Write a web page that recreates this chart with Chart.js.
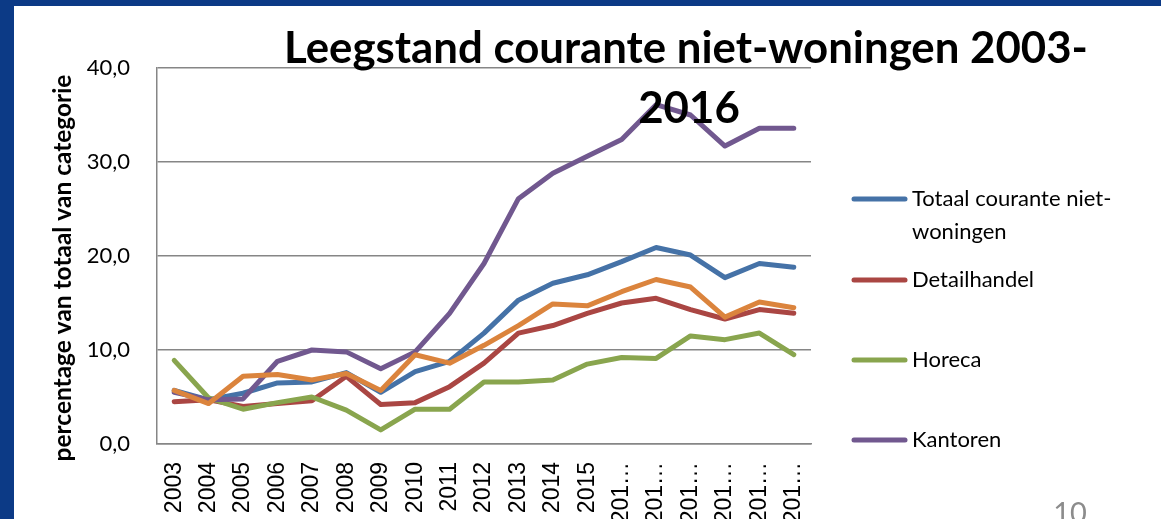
<!DOCTYPE html>
<html><head><meta charset="utf-8">
<script src="https://cdn.jsdelivr.net/npm/chart.js@4.4.1/dist/chart.umd.min.js"></script>
<style>html,body{margin:0;padding:0;background:#fff;overflow:hidden}canvas{display:block}</style>
</head><body>
<canvas id="c" width="1161" height="519"></canvas>
<script>
// ---- data ----
const years = ['2003','2004','2005','2006','2007','2008','2009','2010','2011','2012','2013','2014','2015','201…','201…','201…','201…','201…','201…'];
const totaal       = [5.7,4.7,5.4,6.5,6.6,7.6,5.5,7.7,8.8,11.8,15.3,17.1,18.0,19.4,20.9,20.1,17.7,19.2,18.8];
const detailhandel = [4.5,4.7,4.0,4.3,4.6,7.2,4.2,4.4,6.1,8.6,11.8,12.6,13.9,15.0,15.5,14.3,13.3,14.3,13.9];
const horeca       = [8.9,4.9,3.7,4.4,5.0,3.6,1.5,3.7,3.7,6.6,6.6,6.8,8.5,9.2,9.1,11.5,11.1,11.8,9.5];
const kantoren     = [5.5,4.7,4.8,8.8,10.0,9.8,8.0,9.8,13.9,19.2,26.1,28.8,30.6,32.4,36.1,35.0,31.7,33.6,33.6];
const overig       = [5.7,4.3,7.2,7.4,6.8,7.5,5.7,9.5,8.6,10.5,12.6,14.9,14.7,16.2,17.5,16.7,13.5,15.1,14.5];
const seriesNames  = ['Totaal courante niet-woningen','Detailhandel','Horeca','Kantoren','Overig'];
const legendShown  = [true,true,true,true,false];
const yTickValues  = [0,10,20,30,40];
const titleLines   = ['Leegstand courante niet-woningen 2003-','2016'];
const yAxisTitle   = 'percentage van totaal van categorie';
const pageNumber   = '10';

// ---- styles ----
const colors = ['#4572A7','#AA4643','#89A54E','#71588F','#DB843D'];
const seriesData = [totaal, detailhandel, horeca, kantoren, overig];
const gridColor = '#868686';
const FONT = 'Lato, "Open Sans", sans-serif';

function fitSize(ctx, text, weight, family, target) {
  ctx.font = weight + ' 40px ' + family;
  return 40 * target / ctx.measureText(text).width;
}
function wrap(ctx, text, maxW) {
  const parts = text.split(/(?<=[ -])/);
  const lines = []; let cur = '';
  for (const p of parts) {
    if (cur && ctx.measureText((cur + p).trimEnd()).width > maxW) { lines.push(cur.trimEnd()); cur = p; }
    else cur += p;
  }
  if (cur) lines.push(cur.trimEnd());
  return lines;
}

const decor = {
  id: 'decor',
  beforeDraw(chart) {
    const ctx = chart.ctx;
    ctx.save();
    ctx.fillStyle = '#fff'; ctx.fillRect(0, 0, chart.width, chart.height);
    ctx.fillStyle = '#0c3a86';
    ctx.fillRect(0, 0, chart.width, 6);
    ctx.fillRect(0, 0, 14, chart.height);
    ctx.restore();
  },
  afterDraw(chart) {
    const ctx = chart.ctx;
    ctx.save();
    // title
    const ts = fitSize(ctx, titleLines[0], 'bold', FONT, 804);
    ctx.font = 'bold ' + ts + 'px ' + FONT;
    ctx.fillStyle = '#000';
    ctx.textAlign = 'center'; ctx.textBaseline = 'alphabetic';
    ctx.fillText(titleLines[0], 686, 63);
    ctx.fillText(titleLines[1], 689, 123);
    // y axis title
    const ys = fitSize(ctx, yAxisTitle, 'bold', FONT, 387);
    ctx.save();
    ctx.translate(63, 268);
    ctx.rotate(-Math.PI / 2);
    ctx.font = 'bold ' + ys + 'px ' + FONT;
    ctx.textAlign = 'center'; ctx.textBaseline = 'middle';
    ctx.fillText(yAxisTitle, 0, 0);
    ctx.restore();
    // legend
    ctx.font = '22px ' + FONT;
    ctx.textAlign = 'left'; ctx.textBaseline = 'middle';
    const rowsY = [199, 280, 360, 440];
    let r = 0;
    chart.data.datasets.forEach((ds, i) => {
      if (!legendShown[i]) return;
      const y = rowsY[r++];
      ctx.strokeStyle = ds.borderColor; ctx.lineWidth = 5; ctx.lineCap = 'round';
      ctx.beginPath(); ctx.moveTo(854, y); ctx.lineTo(905, y); ctx.stroke();
      ctx.fillStyle = '#000';
      const lines = wrap(ctx, ds.label, 232);
      lines.forEach((ln, k) => ctx.fillText(ln, 912, y + k * 33));
    });
    // page number
    ctx.font = '29px ' + FONT;
    ctx.fillStyle = '#8c8c8c';
    ctx.textAlign = 'center'; ctx.textBaseline = 'alphabetic';
    ctx.fillText(pageNumber, 1070, 523);
    ctx.restore();
  }
};

new Chart(document.getElementById('c'), {
  type: 'line',
  data: {
    labels: years,
    datasets: seriesData.map((d, i) => ({
      label: seriesNames[i],
      data: d,
      borderColor: colors[i],
      backgroundColor: colors[i],
      borderWidth: 5,
      pointRadius: 0,
      pointHoverRadius: 0,
      tension: 0,
      borderJoinStyle: 'round',
      borderCapStyle: 'round',
      order: seriesData.length - i
    }))
  },
  options: {
    responsive: false,
    animation: false,
    devicePixelRatio: 1,
    layout: { padding: { top: 68, right: 350, bottom: 0, left: 0 } },
    plugins: { legend: { display: false }, title: { display: false }, tooltip: { enabled: false } },
    scales: {
      x: {
        type: 'category',
        offset: true,
        grid: { display: true, drawOnChartArea: false, drawTicks: false },
        border: { display: true, color: gridColor, width: 1.5 },
        ticks: {
          autoSkip: false, minRotation: 90, maxRotation: 90, padding: 18,
          color: '#000', font: { family: '"Liberation Sans", Arial, sans-serif', size: 23 }
        },
        afterFit(s) { s.height = 75; }
      },
      y: {
        min: 0, max: 40,
        afterBuildTicks(s) { s.ticks = yTickValues.map(v => ({ value: v })); },
        grid: { color: gridColor, lineWidth: 1.5, drawTicks: false },
        border: { display: true, color: gridColor, width: 1.5 },
        ticks: {
          padding: 27, color: '#000',
          font: { family: FONT, size: 22 },
          callback: v => v.toFixed(1).replace('.', ',')
        },
        afterFit(s) { s.width = 157; }
      }
    }
  },
  plugins: [decor]
});
</script>
</body></html>
